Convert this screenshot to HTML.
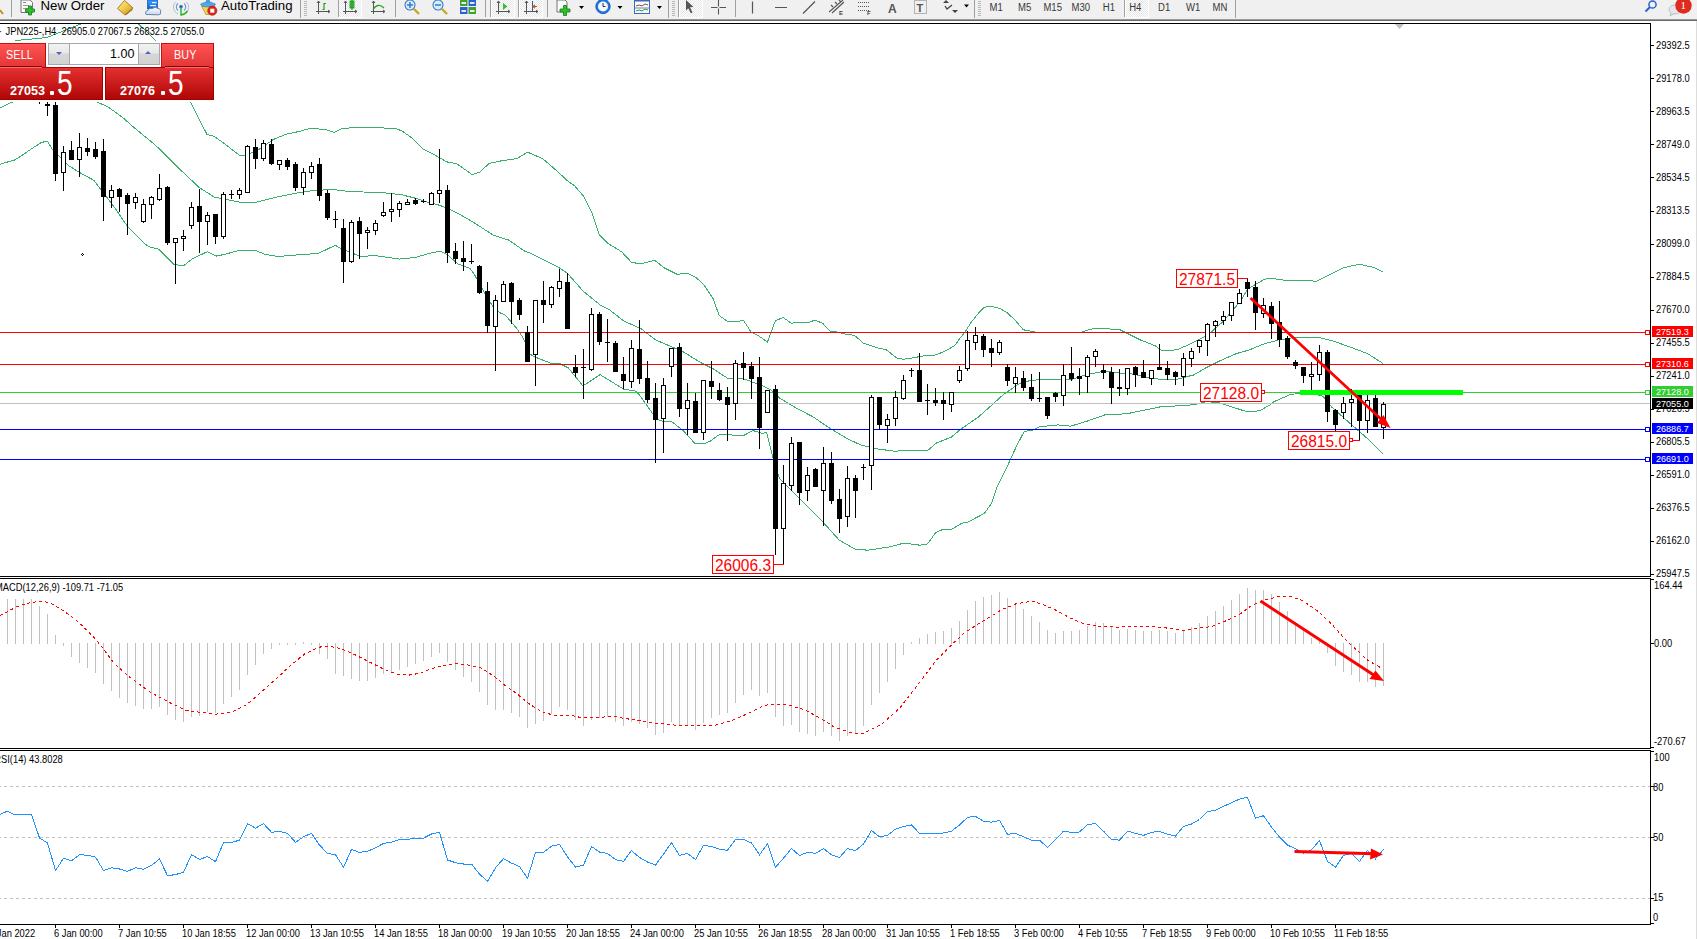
<!DOCTYPE html>
<html><head><meta charset="utf-8">
<style>
html,body{margin:0;padding:0;background:#fff;}
body{width:1697px;height:939px;overflow:hidden;position:relative;font-family:"Liberation Sans",sans-serif;}
#tb{position:absolute;left:0;top:0;width:1697px;height:19px;background:#f0f0f0;}
#tbl{position:absolute;left:0;top:19px;width:1697px;height:2px;background:linear-gradient(#9a9a9a 0,#9a9a9a 50%,#6a6a6a 50%,#6a6a6a 100%);}
#chart{position:absolute;left:0;top:0;}
#edge{position:absolute;left:1696px;top:21px;width:1px;height:918px;background:#dcdcdc;}
.tp{position:absolute;}
</style></head><body>
<div id="tb"><svg width="1697" height="19" style="position:absolute;left:0;top:0">
<g shape-rendering="crispEdges">
<defs><pattern id="chk" x="0" y="0" width="2" height="2" patternUnits="userSpaceOnUse"><rect width="2" height="2" fill="#ffffff"/><rect width="1" height="1" fill="#e6e6e6"/><rect x="1" y="1" width="1" height="1" fill="#e6e6e6"/></pattern></defs>
<rect x="338" y="0" width="24" height="18" fill="#fff"/><rect x="339" y="0" width="22" height="17" fill="url(#chk)"/>
<rect x="491" y="0" width="24" height="18" fill="#fff"/><rect x="492" y="0" width="22" height="17" fill="url(#chk)"/>
<rect x="519" y="0" width="24" height="18" fill="#fff"/><rect x="520" y="0" width="22" height="17" fill="url(#chk)"/>
<rect x="679" y="0" width="24" height="18" fill="#fff"/><rect x="680" y="0" width="22" height="17" fill="url(#chk)"/>
<rect x="1125" y="0" width="24" height="18" fill="#fff"/><rect x="1126" y="0" width="22" height="17" fill="url(#chk)"/>
<g fill="#a0a0a0">
<rect x="11" y="0" width="1" height="17"/>
<rect x="300" y="0" width="1" height="18"/>
<rect x="338" y="0" width="1" height="17"/>
<rect x="395" y="0" width="1" height="17"/>
<rect x="485" y="0" width="1" height="17"/>
<rect x="490" y="0" width="1" height="17"/>
<rect x="518" y="0" width="1" height="17"/>
<rect x="547" y="0" width="1" height="17"/>
<rect x="668" y="0" width="1" height="18"/>
<rect x="678" y="0" width="1" height="17"/>
<rect x="735" y="0" width="1" height="17"/>
<rect x="974" y="0" width="1" height="18"/>
<rect x="1124" y="0" width="1" height="17"/>
<rect x="1235" y="0" width="1" height="18"/>
</g>
<g fill="#b8b8b8">
<rect x="304" y="1" width="3" height="1"/><rect x="304" y="3" width="3" height="1"/><rect x="304" y="5" width="3" height="1"/><rect x="304" y="7" width="3" height="1"/><rect x="304" y="9" width="3" height="1"/><rect x="304" y="11" width="3" height="1"/><rect x="304" y="13" width="3" height="1"/><rect x="304" y="15" width="3" height="1"/>
<rect x="672" y="1" width="3" height="1"/><rect x="672" y="3" width="3" height="1"/><rect x="672" y="5" width="3" height="1"/><rect x="672" y="7" width="3" height="1"/><rect x="672" y="9" width="3" height="1"/><rect x="672" y="11" width="3" height="1"/><rect x="672" y="13" width="3" height="1"/><rect x="672" y="15" width="3" height="1"/>
<rect x="978" y="1" width="3" height="1"/><rect x="978" y="3" width="3" height="1"/><rect x="978" y="5" width="3" height="1"/><rect x="978" y="7" width="3" height="1"/><rect x="978" y="9" width="3" height="1"/><rect x="978" y="11" width="3" height="1"/><rect x="978" y="13" width="3" height="1"/><rect x="978" y="15" width="3" height="1"/>
</g>
</g>
<!-- partial icon at left -->
<path d="M0,10 L3,14" stroke="#c89020" stroke-width="2"/>
<!-- new order doc -->
<path d="M21,0 L30,0 L32.5,2.5 L32.5,12.5 L21,12.5 Z" fill="#fafafa" stroke="#777" stroke-width="1"/>
<rect x="23" y="2" width="3" height="1" fill="#888"/><rect x="23" y="5" width="6" height="1" fill="#999"/><rect x="23" y="8" width="5" height="1" fill="#999"/>
<path d="M28.5,6 h3 v3 h3 v3 h-3 v3 h-3 v-3 h-3 v-3 h3 z" fill="#2fc02f" stroke="#108010" stroke-width="0.8"/>
<!-- gold book -->
<defs><linearGradient id="gb" x1="0" y1="0" x2="1" y2="1"><stop offset="0" stop-color="#fff0a0"/><stop offset="0.5" stop-color="#f0c848"/><stop offset="1" stop-color="#c08820"/></linearGradient>
<linearGradient id="cl" x1="0" y1="0" x2="0" y2="1"><stop offset="0" stop-color="#ffffff"/><stop offset="1" stop-color="#c8d4e8"/></linearGradient>
<linearGradient id="bd" x1="0" y1="0" x2="0" y2="1"><stop offset="0" stop-color="#3aa0ff"/><stop offset="1" stop-color="#1060d0"/></linearGradient></defs>
<path d="M117.5,8.5 L124.5,0.5 L133,8 L125,15 Z" fill="url(#gb)" stroke="#a87018" stroke-width="0.9"/>
<path d="M125.5,14 L132.5,8.5 L132.5,10 L125.5,15.5 Z" fill="#a87018"/>
<!-- doc + cloud -->
<path d="M147.5,0 L157.5,0 L157.5,9 L147.5,9 Z" fill="url(#bd)" stroke="#1858b8" stroke-width="0.8"/>
<rect x="152" y="2" width="4.5" height="1.2" fill="#e8f4ff"/><rect x="150" y="5" width="6" height="1.2" fill="#e8f4ff"/>
<path d="M146,14.5 Q144.5,11 148,10.5 Q149,7.5 152.5,8.5 Q155,6 158,8.5 Q161.5,9 160.5,12 Q161.5,14.5 158.5,14.8 Z" fill="url(#cl)" stroke="#5a78a8" stroke-width="0.9"/>
<!-- signal -->
<path d="M175.5,2 A7.5,7.5 0 0,0 178,14 M186.5,2 A7.5,7.5 0 0,1 186,13" fill="none" stroke="#a8c0e0" stroke-width="1"/>
<path d="M178,3.5 A4.5,4.5 0 0,0 178,10.5 M184,3.5 A4.5,4.5 0 0,1 184,10.5" fill="none" stroke="#6a94d4" stroke-width="1.1"/>
<circle cx="181" cy="6.8" r="1.8" fill="#2a5ad0"/>
<path d="M181,7 L181,15 Q185,14.5 187.5,11" fill="none" stroke="#2cb02c" stroke-width="1.4"/>
<!-- autotrading -->
<path d="M201.5,6 L215,6 L209,14.5 L206,14.5 Z" fill="#f4d458" stroke="#b89018" stroke-width="0.8"/>
<path d="M200.5,4 Q208,0 215.5,4 Q215,7 208,7 Q201,7 200.5,4 Z" fill="#58a8e0" stroke="#3a80c0" stroke-width="0.6"/>
<path d="M205.5,3 Q206,-1 208,-1 Q210,-1 210.5,3 Z" fill="#4a98d8"/>
<circle cx="212.3" cy="10.7" r="4.6" fill="#e22418" stroke="#a81008" stroke-width="0.6"/>
<rect x="210.3" y="8.7" width="4" height="4" fill="#fff"/>
<!-- chart type icons -->
<g stroke="#555" stroke-width="1" fill="none">
<path d="M318.5,1 v13 M316,11.5 h14 M317,3 l1.5,-2 l1.5,2 M328,10 l2,1.5 l-2,1.5"/>
<path d="M345.5,1 v13 M343,11.5 h14 M344,3 l1.5,-2 l1.5,2 M355,10 l2,1.5 l-2,1.5"/>
<path d="M373.5,1 v13 M371,11.5 h14 M372,3 l1.5,-2 l1.5,2 M383,10 l2,1.5 l-2,1.5"/>
<path d="M498.5,1 v13 M496,11.5 h14 M497,3 l1.5,-2 l1.5,2 M508,10 l2,1.5 l-2,1.5"/>
<path d="M526.5,1 v13 M524,11.5 h14 M525,3 l1.5,-2 l1.5,2 M536,10 l2,1.5 l-2,1.5"/>
</g>
<path d="M322.5,9.5 h1.5 v-6 h2" fill="none" stroke="#20a020" stroke-width="1.2"/>
<rect x="350" y="1" width="4" height="7" fill="#40d040" stroke="#109010" stroke-width="0.8"/><path d="M352,0 v10" stroke="#109010"/>
<path d="M373,9.5 Q378,2 384,8" fill="none" stroke="#20a020" stroke-width="1.2"/>
<path d="M503,3 L507.5,6.5 L503,10 Z" fill="#30c030"/>
<path d="M532.5,1 v10" stroke="#2060b0" stroke-width="1"/><path d="M537,6.5 h-3 M535,5 l-2,1.5 l2,1.5" stroke="#e05010" stroke-width="1.2" fill="none"/>
<!-- zoom in/out -->
<circle cx="410" cy="5" r="5" fill="#d8ecfa" stroke="#3a7ac8" stroke-width="1.1"/>
<path d="M407,5 h6 M410,2 v6" stroke="#3a7ac8" stroke-width="1.5"/>
<path d="M414,9 L419,14" stroke="#c8a818" stroke-width="2.4"/>
<circle cx="438" cy="5" r="5" fill="#d8ecfa" stroke="#3a7ac8" stroke-width="1.1"/>
<path d="M435,5 h6" stroke="#3a7ac8" stroke-width="1.5"/>
<path d="M442,9 L447,14" stroke="#c8a818" stroke-width="2.4"/>
<!-- tile -->
<rect x="460" y="0" width="7.5" height="6" fill="#40a030"/><rect x="468.5" y="0" width="7.5" height="6" fill="#2a60d0"/>
<rect x="460" y="7" width="7.5" height="7" fill="#2a60d0"/><rect x="468.5" y="7" width="7.5" height="7" fill="#40a030"/>
<rect x="461.5" y="2" width="4.5" height="2" fill="#e8f0e0"/><rect x="470" y="2" width="4.5" height="2" fill="#e0e8f8"/>
<rect x="461.5" y="10" width="4.5" height="2" fill="#e0e8f8"/><rect x="470" y="10" width="4.5" height="2" fill="#e8f0e0"/>
<!-- new chart -->
<path d="M557,0 L565,0 L567,2 L567,12 L557,12 Z" fill="#fafafa" stroke="#777" stroke-width="1"/>
<path d="M563.5,5.5 h3 v3.5 h3.5 v3 h-3.5 v3.5 h-3 v-3.5 h-3.5 v-3 h3.5 z" fill="#2fc02f" stroke="#108010" stroke-width="0.8"/>
<path d="M579,6 h5 l-2.5,3 z M617.5,6 h5 l-2.5,3 z M657,6 h5 l-2.5,3 z M964,4.5 h5 l-2.5,3 z" fill="#000"/>
<!-- clock -->
<circle cx="603" cy="6.5" r="7.2" fill="#1e78e0" stroke="#0a50b0" stroke-width="0.8"/>
<circle cx="603" cy="6.5" r="5" fill="#f4f8fc"/>
<path d="M603,3 v3.5 h2.5" stroke="#333" stroke-width="1" fill="none"/>
<!-- indicators window -->
<rect x="634.5" y="0" width="15" height="13.5" fill="#f8fbff" stroke="#3a6ab8" stroke-width="1"/>
<rect x="635" y="0" width="14" height="1.5" fill="#3a6ab8"/>
<path d="M636,6 l3,-1 l3,1 l3,-2 l3,1" stroke="#b04020" stroke-width="1" fill="none"/>
<path d="M635,8 h14" stroke="#3a6ab8" stroke-width="0.8"/>
<path d="M636,11 l3,-1 l3,1 l3,-2 l3,1" stroke="#30a030" stroke-width="1" fill="none"/>
<!-- cursor -->
<path d="M686,0 L693.5,7 L690,7.2 L692.5,12.5 L690.8,13.3 L688.3,8.2 L686,10.5 Z" fill="#555"/>
<!-- crosshair -->
<path d="M711,7.5 h15 M718.5,0 v14.5" stroke="#555" stroke-width="1.1"/>
<rect x="717.5" y="6.5" width="2" height="2" fill="#f0f0f0"/>
<!-- lines -->
<path d="M752.5,1.5 v12 M775,7.5 h12 M803,13.5 L815,1.5" stroke="#555" stroke-width="1.2"/>
<path d="M829,12 L843,0 M832,13 L844,2 M831,5 l2,2 M835,2 l2,2 M839,0 l2,2" stroke="#555" stroke-width="1.1" fill="none"/>
<text x="839" y="15" font-family="Liberation Sans" font-size="6" font-weight="bold" fill="#444">E</text>
<path d="M858,2.5 h12 M858,6.5 h12 M858,10.5 h12" stroke="#555" stroke-width="1" stroke-dasharray="1,1"/>
<text x="867" y="15" font-family="Liberation Sans" font-size="6" font-weight="bold" fill="#444">F</text>
<text x="888" y="12.5" font-family="Liberation Sans" font-size="12" font-weight="bold" fill="#555">A</text>
<rect x="914.5" y="0.5" width="12" height="13" fill="none" stroke="#777" stroke-width="1" stroke-dasharray="1,1"/>
<text x="916.5" y="11.5" font-family="Liberation Sans" font-size="11" font-weight="bold" fill="#555">T</text>
<path d="M943,3 l3,-3 l3,3 z M952,10 l3,3 l3,-3 z" fill="#444"/>
<path d="M945,6 l2,3 l5,-4" stroke="#444" stroke-width="1.3" fill="none"/>
<!-- periods text -->
<g font-family="Liberation Sans, sans-serif" font-size="10.6" fill="#383838" transform="scale(0.9,1)">
<text x="1099.44" y="11">M1</text><text x="1131.11" y="11">M5</text><text x="1159.33" y="11">M15</text><text x="1190.56" y="11">M30</text>
<text x="1225.33" y="11">H1</text><text x="1254.67" y="11">H4</text><text x="1286.67" y="11">D1</text><text x="1317.78" y="11">W1</text><text x="1347.33" y="11">MN</text>
</g>
<g font-family="Liberation Sans, sans-serif" font-size="12.3" fill="#000">
<text x="40.5" y="10" textLength="64" lengthAdjust="spacingAndGlyphs">New Order</text>
<text x="221" y="10" textLength="71.5" lengthAdjust="spacingAndGlyphs">AutoTrading</text>
</g>
<!-- search & chat -->
<circle cx="1652.5" cy="4.5" r="3.6" fill="none" stroke="#2a62d0" stroke-width="1.5"/>
<path d="M1650,7 L1645.5,11.5" stroke="#2a62d0" stroke-width="2"/>
<ellipse cx="1675" cy="9.5" rx="6" ry="4.5" fill="#e4e6ea" stroke="#b0b4bc" stroke-width="0.8"/>
<path d="M1671,13 l-1,3 l4,-2.5" fill="#e4e6ea" stroke="#b0b4bc" stroke-width="0.8"/>
<circle cx="1683.5" cy="5.5" r="8.2" fill="#e02a1e"/>
<text x="1680.5" y="9" font-family="Liberation Serif, serif" font-size="11" fill="#fff">1</text>
</svg>
</div>
<div id="tbl"></div>
<svg id="chart" width="1697" height="939">
<defs><clipPath id="cm"><rect x="0" y="24" width="1650" height="552"/></clipPath><clipPath id="cmacd"><rect x="0" y="579" width="1650" height="169"/></clipPath><clipPath id="crsi"><rect x="0" y="751" width="1650" height="173"/></clipPath></defs>
<g shape-rendering="crispEdges" fill="#000">
<rect x="0" y="23" width="1651" height="1"/>
<rect x="1650" y="23" width="1" height="554"/>
<rect x="0" y="576" width="1651" height="1"/>
<rect x="0" y="578" width="1651" height="1"/>
<rect x="1650" y="578" width="1" height="171"/>
<rect x="0" y="748" width="1651" height="1"/>
<rect x="0" y="750" width="1651" height="1"/>
<rect x="1650" y="750" width="1" height="175"/>
<rect x="0" y="924" width="1651" height="1"/>
</g>
<g clip-path="url(#cm)">
<polyline points="0.0,47.0 17.0,40.4 46.7,37.6 82.0,23.5 110.0,10.0 138.0,23.5 155.6,40.4 190.5,102.1 207.0,134.5 213.9,136.2 224.5,143.7 239.5,155.4 244.8,155.0 256.5,151.1 273.5,139.4 286.3,134.1 299.0,131.5 310.8,128.1 326.8,129.8 334.2,132.4 341.7,128.8 356.0,127.3 379.4,127.7 396.4,128.8 401.8,130.9 412.4,138.3 423.0,149.0 433.7,154.3 446.5,161.8 457.1,163.9 472.0,174.5 479.5,172.4 489.0,163.5 501.9,160.7 516.8,158.6 527.4,152.2 530.0,153.2 542.8,158.7 555.6,169.8 568.3,181.5 574.7,185.8 583.2,195.8 591.8,212.4 599.2,234.8 607.7,243.3 621.6,251.8 631.2,262.0 639.7,264.0 654.6,260.3 664.2,267.8 677.0,274.2 687.6,273.5 696.1,277.4 704.7,285.9 713.2,298.7 719.2,315.6 727.5,321.3 738.3,321.3 743.5,320.3 751.1,332.2 758.8,336.0 767.5,342.0 770.9,332.8 775.4,320.7 783.1,317.5 791.4,323.3 795.8,322.4 808.6,322.4 815.0,320.1 822.7,323.3 830.4,331.6 835.5,331.6 845.7,334.1 854.6,335.4 863.6,343.3 878.9,348.2 885.9,349.5 897.0,358.2 903.4,359.2 914.0,357.7 922.6,356.0 933.2,355.6 943.9,351.8 954.5,345.8 960.0,338.3 965.4,331.6 970.9,322.7 978.1,313.6 984.4,307.2 991.7,306.3 1000.0,308.5 1007.0,312.6 1015.0,320.0 1023.4,329.8 1036.0,332.2 1081.0,332.2 1094.0,328.3 1119.3,329.4 1127.5,333.5 1140.3,339.9 1155.2,345.8 1161.6,350.5 1176.5,349.9 1190.0,344.2 1203.8,337.3 1211.3,332.0 1222.0,322.4 1232.6,310.7 1241.1,300.0 1247.5,289.4 1256.0,284.1 1264.5,279.3 1270.9,278.2 1277.3,279.3 1290.0,280.9 1301.8,280.2 1316.7,281.3 1329.5,274.9 1344.4,267.5 1359.3,264.3 1374.2,267.5 1382.7,271.7" fill="none" stroke="#36b06c" stroke-width="1" shape-rendering="crispEdges"/>
<polyline points="0.0,107.9 12.0,102.2 30.0,95.0 80.0,95.0 97.3,102.2 107.5,106.5 123.0,117.8 135.8,129.1 150.0,140.6 160.6,150.0 179.8,169.2 199.0,187.3 213.9,196.9 239.5,202.2 256.5,202.2 277.8,196.9 299.0,192.6 314.0,190.5 333.2,189.5 350.0,191.6 363.4,192.0 382.6,192.6 401.8,194.8 414.5,198.0 429.5,202.7 440.1,205.4 455.0,211.8 472.0,221.4 493.4,235.2 508.5,240.0 525.6,251.7 530.0,252.9 557.7,266.7 567.3,273.1 583.2,291.2 600.3,305.1 608.8,309.3 623.7,321.0 640.8,328.5 655.7,340.0 666.1,344.4 683.2,351.8 700.0,362.2 712.8,368.6 727.5,378.2 742.2,378.2 753.9,382.6 762.4,385.8 770.9,390.0 779.5,398.0 796.5,408.2 813.5,417.1 828.4,427.3 839.1,433.7 846.5,438.3 860.4,444.8 875.3,448.6 893.4,451.1 920.0,450.6 927.5,450.6 936.4,443.1 951.3,437.1 960.0,429.8 978.0,417.3 992.5,404.5 1003.4,394.5 1017.9,384.5 1028.8,380.9 1039.7,379.5 1061.4,379.5 1072.3,379.1 1086.7,374.6 1101.2,371.8 1110.3,371.8 1122.9,373.3 1130.0,373.6 1146.7,377.1 1159.5,379.3 1176.5,379.3 1193.5,375.0 1206.3,367.6 1219.1,361.2 1236.1,353.7 1249.0,350.0 1264.5,343.7 1278.4,340.0 1293.2,337.7 1316.7,337.1 1331.6,340.5 1350.8,347.3 1367.8,353.7 1382.7,363.3" fill="none" stroke="#36b06c" stroke-width="1" shape-rendering="crispEdges"/>
<polyline points="0.0,164.2 14.5,160.0 19.0,157.4 28.3,151.0 41.0,142.6 47.4,141.1 53.0,150.3 68.2,165.3 81.0,173.4 93.7,180.2 100.1,188.7 115.0,208.0 127.8,227.0 144.9,244.0 150.0,247.0 158.5,249.1 173.4,264.0 183.0,266.1 192.6,258.7 207.5,251.6 216.0,256.1 224.5,254.4 239.5,250.2 256.5,250.8 265.0,254.4 277.8,256.5 299.0,254.8 318.3,253.4 335.3,245.3 341.7,249.1 350.0,252.3 361.3,256.5 374.0,255.5 399.6,259.1 414.5,257.6 429.5,253.4 440.1,251.2 447.5,254.9 457.9,263.9 469.8,268.3 474.3,274.3 483.2,290.7 492.2,305.6 499.6,312.6 505.6,315.3 517.5,329.4 523.5,338.4 529.4,354.0 536.9,357.8 550.3,363.0 560.0,363.7 568.2,367.8 583.0,385.9 600.1,374.6 623.5,389.1 636.3,391.2 640.6,396.6 653.4,414.7 657.7,419.5 664.1,421.7 671.5,421.4 683.2,430.7 695.0,443.5 704.5,443.5 710.9,440.8 719.5,434.4 723.7,434.4 743.2,435.8 752.8,430.5 762.4,433.3 766.7,432.6 773.1,458.2 779.5,478.4 788.0,487.0 805.0,504.0 822.0,521.0 839.1,540.0 855.0,549.1 867.8,550.2 889.1,547.0 904.0,543.1 920.0,545.2 927.5,544.0 935.7,532.6 942.4,529.6 951.3,529.6 961.7,523.2 967.7,522.1 984.1,513.6 991.6,503.5 997.5,485.6 1002.0,477.4 1009.4,461.7 1016.9,445.3 1024.3,431.3 1032.4,430.4 1039.7,426.7 1057.8,424.9 1070.5,426.2 1086.7,421.3 1104.8,414.9 1117.5,414.6 1130.0,413.1 1159.5,407.0 1193.5,404.8 1206.3,401.6 1219.1,402.7 1246.8,411.7 1259.6,410.8 1270.0,404.8 1274.1,401.6 1291.1,394.2 1310.3,393.1 1323.1,396.3 1331.6,407.0 1350.8,424.0 1367.8,438.9 1382.7,453.8" fill="none" stroke="#36b06c" stroke-width="1" shape-rendering="crispEdges"/>
<g shape-rendering="crispEdges">
<rect x="0" y="332" width="1650" height="1" fill="#ff0000"/>
<rect x="0" y="364" width="1650" height="1" fill="#ff0000"/>
<rect x="0" y="392" width="1650" height="1" fill="#32cd32"/>
<rect x="0" y="403" width="1650" height="1" fill="#c0c0c0"/>
<rect x="0" y="429" width="1650" height="1" fill="#0000ff"/>
<rect x="0" y="459" width="1650" height="1" fill="#0000ff"/>
<rect x="1645.5" y="330.5" width="4" height="4" fill="#fff" stroke="#ff0000" stroke-width="1"/>
<rect x="1645.5" y="362.5" width="4" height="4" fill="#fff" stroke="#ff0000" stroke-width="1"/>
<rect x="1645.5" y="390.5" width="4" height="4" fill="#fff" stroke="#32cd32" stroke-width="1"/>
<rect x="1645.5" y="427.5" width="4" height="4" fill="#fff" stroke="#0000ff" stroke-width="1"/>
<rect x="1645.5" y="457.5" width="4" height="4" fill="#fff" stroke="#0000ff" stroke-width="1"/>
</g>
<polygon points="1395,24 1404,24 1399.5,29" fill="#c0c0c0"/>
<g shape-rendering="crispEdges">
<rect x="39" y="102" width="1" height="2" fill="#000"/>
<rect x="47" y="102" width="1" height="14" fill="#000"/>
<rect x="45" y="104" width="5" height="2" fill="#000"/>
<rect x="55" y="102" width="1" height="79" fill="#000"/>
<rect x="53" y="105" width="5" height="69" fill="#000"/>
<rect x="63" y="146" width="1" height="45" fill="#000"/>
<rect x="61.5" y="152.5" width="4" height="20" fill="#fff" stroke="#000" stroke-width="1"/>
<rect x="71" y="141" width="1" height="19" fill="#000"/>
<rect x="69" y="150" width="5" height="10" fill="#000"/>
<rect x="79" y="133" width="1" height="44" fill="#000"/>
<rect x="77.5" y="147.5" width="4" height="12" fill="#fff" stroke="#000" stroke-width="1"/>
<rect x="87" y="138" width="1" height="18" fill="#000"/>
<rect x="85" y="148" width="5" height="4" fill="#000"/>
<rect x="95" y="142" width="1" height="17" fill="#000"/>
<rect x="93" y="149" width="5" height="8" fill="#000"/>
<rect x="103" y="139" width="1" height="82" fill="#000"/>
<rect x="101" y="151" width="5" height="46" fill="#000"/>
<rect x="111" y="185" width="1" height="23" fill="#000"/>
<rect x="109.5" y="190.5" width="4" height="7" fill="#fff" stroke="#000" stroke-width="1"/>
<rect x="119" y="188" width="1" height="24" fill="#000"/>
<rect x="117" y="189" width="5" height="8" fill="#000"/>
<rect x="127" y="193" width="1" height="42" fill="#000"/>
<rect x="125" y="195" width="5" height="9" fill="#000"/>
<rect x="135" y="193" width="1" height="16" fill="#000"/>
<rect x="133.5" y="197.5" width="4" height="5" fill="#fff" stroke="#000" stroke-width="1"/>
<rect x="143" y="199" width="1" height="24" fill="#000"/>
<rect x="141.5" y="204.5" width="4" height="17" fill="#fff" stroke="#000" stroke-width="1"/>
<rect x="151" y="196" width="1" height="23" fill="#000"/>
<rect x="149.5" y="197.5" width="4" height="7" fill="#fff" stroke="#000" stroke-width="1"/>
<rect x="159" y="174" width="1" height="27" fill="#000"/>
<rect x="157.5" y="188.5" width="4" height="11" fill="#fff" stroke="#000" stroke-width="1"/>
<rect x="167" y="186" width="1" height="59" fill="#000"/>
<rect x="165" y="187" width="5" height="56" fill="#000"/>
<rect x="175" y="238" width="1" height="46" fill="#000"/>
<rect x="173.5" y="238.5" width="4" height="4" fill="#fff" stroke="#000" stroke-width="1"/>
<rect x="183" y="230" width="1" height="21" fill="#000"/>
<rect x="181.5" y="236.5" width="4" height="2" fill="#fff" stroke="#000" stroke-width="1"/>
<rect x="191" y="202" width="1" height="27" fill="#000"/>
<rect x="189.5" y="207.5" width="4" height="18" fill="#fff" stroke="#000" stroke-width="1"/>
<rect x="199" y="189" width="1" height="64" fill="#000"/>
<rect x="197" y="206" width="5" height="16" fill="#000"/>
<rect x="207" y="212" width="1" height="33" fill="#000"/>
<rect x="205.5" y="215.5" width="4" height="6" fill="#fff" stroke="#000" stroke-width="1"/>
<rect x="215" y="214" width="1" height="30" fill="#000"/>
<rect x="213" y="214" width="5" height="23" fill="#000"/>
<rect x="223" y="192" width="1" height="47" fill="#000"/>
<rect x="221.5" y="194.5" width="4" height="42" fill="#fff" stroke="#000" stroke-width="1"/>
<rect x="231" y="190" width="1" height="9" fill="#000"/>
<rect x="229" y="194" width="5" height="1" fill="#000"/>
<rect x="239" y="188" width="1" height="11" fill="#000"/>
<rect x="237.5" y="190.5" width="4" height="4" fill="#fff" stroke="#000" stroke-width="1"/>
<rect x="247" y="145" width="1" height="48" fill="#000"/>
<rect x="245.5" y="146.5" width="4" height="46" fill="#fff" stroke="#000" stroke-width="1"/>
<rect x="255" y="139" width="1" height="30" fill="#000"/>
<rect x="253" y="147" width="5" height="12" fill="#000"/>
<rect x="263" y="140" width="1" height="21" fill="#000"/>
<rect x="261.5" y="143.5" width="4" height="15" fill="#fff" stroke="#000" stroke-width="1"/>
<rect x="271" y="139" width="1" height="26" fill="#000"/>
<rect x="269" y="144" width="5" height="20" fill="#000"/>
<rect x="279" y="160" width="1" height="10" fill="#000"/>
<rect x="277.5" y="160.5" width="4" height="4" fill="#fff" stroke="#000" stroke-width="1"/>
<rect x="287" y="158" width="1" height="12" fill="#000"/>
<rect x="285" y="160" width="5" height="7" fill="#000"/>
<rect x="295" y="162" width="1" height="29" fill="#000"/>
<rect x="293" y="164" width="5" height="24" fill="#000"/>
<rect x="303" y="168" width="1" height="27" fill="#000"/>
<rect x="301.5" y="172.5" width="4" height="15" fill="#fff" stroke="#000" stroke-width="1"/>
<rect x="311" y="162" width="1" height="17" fill="#000"/>
<rect x="309.5" y="166.5" width="4" height="6" fill="#fff" stroke="#000" stroke-width="1"/>
<rect x="319" y="158" width="1" height="43" fill="#000"/>
<rect x="317" y="164" width="5" height="32" fill="#000"/>
<rect x="327" y="190" width="1" height="30" fill="#000"/>
<rect x="325" y="193" width="5" height="25" fill="#000"/>
<rect x="335" y="211" width="1" height="17" fill="#000"/>
<rect x="333" y="219" width="5" height="1" fill="#000"/>
<rect x="343" y="219" width="1" height="64" fill="#000"/>
<rect x="341" y="228" width="5" height="34" fill="#000"/>
<rect x="351" y="220" width="1" height="43" fill="#000"/>
<rect x="349.5" y="222.5" width="4" height="39" fill="#fff" stroke="#000" stroke-width="1"/>
<rect x="359" y="217" width="1" height="42" fill="#000"/>
<rect x="357" y="221" width="5" height="13" fill="#000"/>
<rect x="367" y="227" width="1" height="22" fill="#000"/>
<rect x="365.5" y="230.5" width="4" height="2" fill="#fff" stroke="#000" stroke-width="1"/>
<rect x="375" y="220" width="1" height="15" fill="#000"/>
<rect x="373.5" y="223.5" width="4" height="7" fill="#fff" stroke="#000" stroke-width="1"/>
<rect x="383" y="202" width="1" height="15" fill="#000"/>
<rect x="381.5" y="212.5" width="4" height="3" fill="#fff" stroke="#000" stroke-width="1"/>
<rect x="391" y="193" width="1" height="29" fill="#000"/>
<rect x="389.5" y="209.5" width="4" height="2" fill="#fff" stroke="#000" stroke-width="1"/>
<rect x="399" y="201" width="1" height="16" fill="#000"/>
<rect x="397.5" y="203.5" width="4" height="6" fill="#fff" stroke="#000" stroke-width="1"/>
<rect x="407" y="199" width="1" height="6" fill="#000"/>
<rect x="405.5" y="202.5" width="4" height="2" fill="#fff" stroke="#000" stroke-width="1"/>
<rect x="415" y="198" width="1" height="7" fill="#000"/>
<rect x="413" y="200" width="5" height="4" fill="#000"/>
<rect x="423" y="199" width="1" height="4" fill="#000"/>
<rect x="421" y="201" width="5" height="1" fill="#000"/>
<rect x="431" y="192" width="1" height="13" fill="#000"/>
<rect x="429.5" y="193.5" width="4" height="11" fill="#fff" stroke="#000" stroke-width="1"/>
<rect x="439" y="149" width="1" height="54" fill="#000"/>
<rect x="437.5" y="190.5" width="4" height="3" fill="#fff" stroke="#000" stroke-width="1"/>
<rect x="447" y="185" width="1" height="78" fill="#000"/>
<rect x="445" y="190" width="5" height="63" fill="#000"/>
<rect x="455" y="243" width="1" height="21" fill="#000"/>
<rect x="453" y="251" width="5" height="8" fill="#000"/>
<rect x="463" y="241" width="1" height="30" fill="#000"/>
<rect x="461" y="258" width="5" height="4" fill="#000"/>
<rect x="471" y="244" width="1" height="20" fill="#000"/>
<rect x="469" y="261" width="5" height="1" fill="#000"/>
<rect x="479" y="265" width="1" height="29" fill="#000"/>
<rect x="477" y="266" width="5" height="27" fill="#000"/>
<rect x="487" y="282" width="1" height="51" fill="#000"/>
<rect x="485" y="291" width="5" height="35" fill="#000"/>
<rect x="495" y="295" width="1" height="76" fill="#000"/>
<rect x="493.5" y="300.5" width="4" height="26" fill="#fff" stroke="#000" stroke-width="1"/>
<rect x="503" y="281" width="1" height="21" fill="#000"/>
<rect x="501.5" y="284.5" width="4" height="17" fill="#fff" stroke="#000" stroke-width="1"/>
<rect x="511" y="282" width="1" height="42" fill="#000"/>
<rect x="509" y="283" width="5" height="19" fill="#000"/>
<rect x="519" y="298" width="1" height="22" fill="#000"/>
<rect x="517" y="300" width="5" height="15" fill="#000"/>
<rect x="527" y="326" width="1" height="36" fill="#000"/>
<rect x="525" y="332" width="5" height="30" fill="#000"/>
<rect x="535" y="300" width="1" height="86" fill="#000"/>
<rect x="533.5" y="300.5" width="4" height="54" fill="#fff" stroke="#000" stroke-width="1"/>
<rect x="543" y="281" width="1" height="42" fill="#000"/>
<rect x="541" y="300" width="5" height="5" fill="#000"/>
<rect x="551" y="286" width="1" height="22" fill="#000"/>
<rect x="549.5" y="287.5" width="4" height="17" fill="#fff" stroke="#000" stroke-width="1"/>
<rect x="559" y="269" width="1" height="28" fill="#000"/>
<rect x="557.5" y="281.5" width="4" height="7" fill="#fff" stroke="#000" stroke-width="1"/>
<rect x="567" y="273" width="1" height="56" fill="#000"/>
<rect x="565" y="282" width="5" height="47" fill="#000"/>
<rect x="575" y="355" width="1" height="22" fill="#000"/>
<rect x="573" y="367" width="5" height="6" fill="#000"/>
<rect x="583" y="349" width="1" height="50" fill="#000"/>
<rect x="581" y="367" width="5" height="1" fill="#000"/>
<rect x="591" y="308" width="1" height="63" fill="#000"/>
<rect x="589.5" y="314.5" width="4" height="55" fill="#fff" stroke="#000" stroke-width="1"/>
<rect x="599" y="312" width="1" height="33" fill="#000"/>
<rect x="597" y="314" width="5" height="28" fill="#000"/>
<rect x="607" y="319" width="1" height="43" fill="#000"/>
<rect x="605" y="342" width="5" height="1" fill="#000"/>
<rect x="615" y="341" width="1" height="31" fill="#000"/>
<rect x="613" y="343" width="5" height="29" fill="#000"/>
<rect x="623" y="357" width="1" height="32" fill="#000"/>
<rect x="621" y="374" width="5" height="7" fill="#000"/>
<rect x="631" y="340" width="1" height="48" fill="#000"/>
<rect x="629.5" y="348.5" width="4" height="33" fill="#fff" stroke="#000" stroke-width="1"/>
<rect x="639" y="320" width="1" height="64" fill="#000"/>
<rect x="637" y="349" width="5" height="30" fill="#000"/>
<rect x="647" y="361" width="1" height="42" fill="#000"/>
<rect x="645" y="378" width="5" height="22" fill="#000"/>
<rect x="655" y="383" width="1" height="80" fill="#000"/>
<rect x="653" y="398" width="5" height="22" fill="#000"/>
<rect x="663" y="378" width="1" height="75" fill="#000"/>
<rect x="661.5" y="385.5" width="4" height="33" fill="#fff" stroke="#000" stroke-width="1"/>
<rect x="671" y="348" width="1" height="29" fill="#000"/>
<rect x="669.5" y="348.5" width="4" height="18" fill="#fff" stroke="#000" stroke-width="1"/>
<rect x="679" y="343" width="1" height="74" fill="#000"/>
<rect x="677" y="347" width="5" height="62" fill="#000"/>
<rect x="687" y="383" width="1" height="52" fill="#000"/>
<rect x="685.5" y="400.5" width="4" height="8" fill="#fff" stroke="#000" stroke-width="1"/>
<rect x="695" y="393" width="1" height="40" fill="#000"/>
<rect x="693" y="401" width="5" height="32" fill="#000"/>
<rect x="703" y="380" width="1" height="60" fill="#000"/>
<rect x="701.5" y="380.5" width="4" height="52" fill="#fff" stroke="#000" stroke-width="1"/>
<rect x="711" y="361" width="1" height="38" fill="#000"/>
<rect x="709" y="381" width="5" height="6" fill="#000"/>
<rect x="719" y="383" width="1" height="18" fill="#000"/>
<rect x="717" y="390" width="5" height="10" fill="#000"/>
<rect x="727" y="387" width="1" height="54" fill="#000"/>
<rect x="725" y="397" width="5" height="8" fill="#000"/>
<rect x="735" y="360" width="1" height="60" fill="#000"/>
<rect x="733.5" y="363.5" width="4" height="40" fill="#fff" stroke="#000" stroke-width="1"/>
<rect x="743" y="352" width="1" height="28" fill="#000"/>
<rect x="741" y="363" width="5" height="5" fill="#000"/>
<rect x="751" y="362" width="1" height="37" fill="#000"/>
<rect x="749" y="366" width="5" height="13" fill="#000"/>
<rect x="759" y="357" width="1" height="92" fill="#000"/>
<rect x="757" y="377" width="5" height="51" fill="#000"/>
<rect x="767" y="390" width="1" height="23" fill="#000"/>
<rect x="765.5" y="390.5" width="4" height="22" fill="#fff" stroke="#000" stroke-width="1"/>
<rect x="775" y="385" width="1" height="170" fill="#000"/>
<rect x="773" y="389" width="5" height="140" fill="#000"/>
<rect x="783" y="465" width="1" height="100" fill="#000"/>
<rect x="781.5" y="483.5" width="4" height="45" fill="#fff" stroke="#000" stroke-width="1"/>
<rect x="791" y="437" width="1" height="54" fill="#000"/>
<rect x="789.5" y="443.5" width="4" height="42" fill="#fff" stroke="#000" stroke-width="1"/>
<rect x="799" y="442" width="1" height="63" fill="#000"/>
<rect x="797" y="442" width="5" height="51" fill="#000"/>
<rect x="807" y="467" width="1" height="34" fill="#000"/>
<rect x="805.5" y="475.5" width="4" height="15" fill="#fff" stroke="#000" stroke-width="1"/>
<rect x="815" y="468" width="1" height="19" fill="#000"/>
<rect x="813" y="469" width="5" height="18" fill="#000"/>
<rect x="823" y="447" width="1" height="79" fill="#000"/>
<rect x="821.5" y="463.5" width="4" height="27" fill="#fff" stroke="#000" stroke-width="1"/>
<rect x="831" y="452" width="1" height="52" fill="#000"/>
<rect x="829" y="463" width="5" height="38" fill="#000"/>
<rect x="839" y="489" width="1" height="44" fill="#000"/>
<rect x="837" y="499" width="5" height="20" fill="#000"/>
<rect x="847" y="466" width="1" height="61" fill="#000"/>
<rect x="845.5" y="478.5" width="4" height="38" fill="#fff" stroke="#000" stroke-width="1"/>
<rect x="855" y="475" width="1" height="43" fill="#000"/>
<rect x="853" y="478" width="5" height="13" fill="#000"/>
<rect x="863" y="464" width="1" height="16" fill="#000"/>
<rect x="861" y="467" width="5" height="1" fill="#000"/>
<rect x="871" y="395" width="1" height="95" fill="#000"/>
<rect x="869.5" y="397.5" width="4" height="68" fill="#fff" stroke="#000" stroke-width="1"/>
<rect x="879" y="397" width="1" height="33" fill="#000"/>
<rect x="877" y="397" width="5" height="28" fill="#000"/>
<rect x="887" y="414" width="1" height="29" fill="#000"/>
<rect x="885.5" y="419.5" width="4" height="6" fill="#fff" stroke="#000" stroke-width="1"/>
<rect x="895" y="391" width="1" height="35" fill="#000"/>
<rect x="893.5" y="397.5" width="4" height="21" fill="#fff" stroke="#000" stroke-width="1"/>
<rect x="903" y="375" width="1" height="25" fill="#000"/>
<rect x="901.5" y="380.5" width="4" height="18" fill="#fff" stroke="#000" stroke-width="1"/>
<rect x="911" y="368" width="1" height="9" fill="#000"/>
<rect x="909" y="370" width="5" height="1" fill="#000"/>
<rect x="919" y="353" width="1" height="49" fill="#000"/>
<rect x="917" y="370" width="5" height="32" fill="#000"/>
<rect x="927" y="384" width="1" height="31" fill="#000"/>
<rect x="925" y="400" width="5" height="1" fill="#000"/>
<rect x="935" y="388" width="1" height="18" fill="#000"/>
<rect x="933" y="400" width="5" height="3" fill="#000"/>
<rect x="943" y="392" width="1" height="28" fill="#000"/>
<rect x="941" y="400" width="5" height="4" fill="#000"/>
<rect x="951" y="392" width="1" height="20" fill="#000"/>
<rect x="949.5" y="392.5" width="4" height="12" fill="#fff" stroke="#000" stroke-width="1"/>
<rect x="959" y="366" width="1" height="17" fill="#000"/>
<rect x="957.5" y="370.5" width="4" height="10" fill="#fff" stroke="#000" stroke-width="1"/>
<rect x="967" y="331" width="1" height="40" fill="#000"/>
<rect x="965.5" y="340.5" width="4" height="28" fill="#fff" stroke="#000" stroke-width="1"/>
<rect x="975" y="327" width="1" height="23" fill="#000"/>
<rect x="973.5" y="335.5" width="4" height="7" fill="#fff" stroke="#000" stroke-width="1"/>
<rect x="983" y="334" width="1" height="23" fill="#000"/>
<rect x="981" y="336" width="5" height="14" fill="#000"/>
<rect x="991" y="339" width="1" height="28" fill="#000"/>
<rect x="989" y="348" width="5" height="5" fill="#000"/>
<rect x="999" y="340" width="1" height="15" fill="#000"/>
<rect x="997.5" y="342.5" width="4" height="10" fill="#fff" stroke="#000" stroke-width="1"/>
<rect x="1007" y="364" width="1" height="22" fill="#000"/>
<rect x="1005" y="367" width="5" height="14" fill="#000"/>
<rect x="1015" y="367" width="1" height="26" fill="#000"/>
<rect x="1013.5" y="377.5" width="4" height="6" fill="#fff" stroke="#000" stroke-width="1"/>
<rect x="1023" y="371" width="1" height="20" fill="#000"/>
<rect x="1021" y="378" width="5" height="10" fill="#000"/>
<rect x="1031" y="374" width="1" height="27" fill="#000"/>
<rect x="1029" y="387" width="5" height="12" fill="#000"/>
<rect x="1039" y="372" width="1" height="30" fill="#000"/>
<rect x="1037" y="398" width="5" height="1" fill="#000"/>
<rect x="1047" y="397" width="1" height="22" fill="#000"/>
<rect x="1045" y="397" width="5" height="19" fill="#000"/>
<rect x="1055" y="392" width="1" height="10" fill="#000"/>
<rect x="1053" y="393" width="5" height="4" fill="#000"/>
<rect x="1063" y="364" width="1" height="42" fill="#000"/>
<rect x="1061.5" y="375.5" width="4" height="20" fill="#fff" stroke="#000" stroke-width="1"/>
<rect x="1071" y="347" width="1" height="34" fill="#000"/>
<rect x="1069" y="373" width="5" height="6" fill="#000"/>
<rect x="1079" y="368" width="1" height="27" fill="#000"/>
<rect x="1077" y="376" width="5" height="3" fill="#000"/>
<rect x="1087" y="355" width="1" height="38" fill="#000"/>
<rect x="1085.5" y="357.5" width="4" height="19" fill="#fff" stroke="#000" stroke-width="1"/>
<rect x="1095" y="349" width="1" height="18" fill="#000"/>
<rect x="1093.5" y="351.5" width="4" height="5" fill="#fff" stroke="#000" stroke-width="1"/>
<rect x="1103" y="364" width="1" height="15" fill="#000"/>
<rect x="1101" y="370" width="5" height="3" fill="#000"/>
<rect x="1111" y="367" width="1" height="37" fill="#000"/>
<rect x="1109" y="372" width="5" height="16" fill="#000"/>
<rect x="1119" y="369" width="1" height="27" fill="#000"/>
<rect x="1117" y="387" width="5" height="2" fill="#000"/>
<rect x="1127" y="368" width="1" height="27" fill="#000"/>
<rect x="1125.5" y="368.5" width="4" height="20" fill="#fff" stroke="#000" stroke-width="1"/>
<rect x="1135" y="366" width="1" height="21" fill="#000"/>
<rect x="1133" y="367" width="5" height="8" fill="#000"/>
<rect x="1143" y="360" width="1" height="18" fill="#000"/>
<rect x="1141" y="372" width="5" height="6" fill="#000"/>
<rect x="1151" y="370" width="1" height="15" fill="#000"/>
<rect x="1149.5" y="370.5" width="4" height="8" fill="#fff" stroke="#000" stroke-width="1"/>
<rect x="1159" y="344" width="1" height="26" fill="#000"/>
<rect x="1157" y="367" width="5" height="3" fill="#000"/>
<rect x="1167" y="361" width="1" height="19" fill="#000"/>
<rect x="1165" y="368" width="5" height="7" fill="#000"/>
<rect x="1175" y="371" width="1" height="14" fill="#000"/>
<rect x="1173" y="372" width="5" height="5" fill="#000"/>
<rect x="1183" y="353" width="1" height="33" fill="#000"/>
<rect x="1181.5" y="358.5" width="4" height="18" fill="#fff" stroke="#000" stroke-width="1"/>
<rect x="1191" y="348" width="1" height="19" fill="#000"/>
<rect x="1189.5" y="351.5" width="4" height="7" fill="#fff" stroke="#000" stroke-width="1"/>
<rect x="1199" y="340" width="1" height="13" fill="#000"/>
<rect x="1197.5" y="340.5" width="4" height="6" fill="#fff" stroke="#000" stroke-width="1"/>
<rect x="1207" y="323" width="1" height="33" fill="#000"/>
<rect x="1205.5" y="324.5" width="4" height="16" fill="#fff" stroke="#000" stroke-width="1"/>
<rect x="1215" y="320" width="1" height="17" fill="#000"/>
<rect x="1213.5" y="321.5" width="4" height="4" fill="#fff" stroke="#000" stroke-width="1"/>
<rect x="1223" y="311" width="1" height="14" fill="#000"/>
<rect x="1221.5" y="316.5" width="4" height="4" fill="#fff" stroke="#000" stroke-width="1"/>
<rect x="1231" y="302" width="1" height="19" fill="#000"/>
<rect x="1229.5" y="302.5" width="4" height="13" fill="#fff" stroke="#000" stroke-width="1"/>
<rect x="1239" y="289" width="1" height="15" fill="#000"/>
<rect x="1237.5" y="293.5" width="4" height="10" fill="#fff" stroke="#000" stroke-width="1"/>
<rect x="1247" y="279" width="1" height="18" fill="#000"/>
<rect x="1245" y="282" width="5" height="7" fill="#000"/>
<rect x="1255" y="281" width="1" height="49" fill="#000"/>
<rect x="1253" y="287" width="5" height="26" fill="#000"/>
<rect x="1263" y="298" width="1" height="20" fill="#000"/>
<rect x="1261.5" y="305.5" width="4" height="8" fill="#fff" stroke="#000" stroke-width="1"/>
<rect x="1271" y="302" width="1" height="37" fill="#000"/>
<rect x="1269" y="306" width="5" height="18" fill="#000"/>
<rect x="1279" y="301" width="1" height="46" fill="#000"/>
<rect x="1277" y="322" width="5" height="18" fill="#000"/>
<rect x="1287" y="336" width="1" height="23" fill="#000"/>
<rect x="1285" y="338" width="5" height="19" fill="#000"/>
<rect x="1295" y="360" width="1" height="9" fill="#000"/>
<rect x="1293" y="362" width="5" height="4" fill="#000"/>
<rect x="1303" y="367" width="1" height="16" fill="#000"/>
<rect x="1301" y="367" width="5" height="9" fill="#000"/>
<rect x="1311" y="362" width="1" height="29" fill="#000"/>
<rect x="1309.5" y="374.5" width="4" height="2" fill="#fff" stroke="#000" stroke-width="1"/>
<rect x="1319" y="345" width="1" height="36" fill="#000"/>
<rect x="1317.5" y="352.5" width="4" height="22" fill="#fff" stroke="#000" stroke-width="1"/>
<rect x="1327" y="350" width="1" height="72" fill="#000"/>
<rect x="1325" y="352" width="5" height="60" fill="#000"/>
<rect x="1335" y="409" width="1" height="27" fill="#000"/>
<rect x="1333" y="410" width="5" height="15" fill="#000"/>
<rect x="1343" y="397" width="1" height="22" fill="#000"/>
<rect x="1341.5" y="403.5" width="4" height="9" fill="#fff" stroke="#000" stroke-width="1"/>
<rect x="1351" y="389" width="1" height="38" fill="#000"/>
<rect x="1349.5" y="399.5" width="4" height="3" fill="#fff" stroke="#000" stroke-width="1"/>
<rect x="1359" y="393" width="1" height="48" fill="#000"/>
<rect x="1357" y="395" width="5" height="26" fill="#000"/>
<rect x="1367" y="395" width="1" height="38" fill="#000"/>
<rect x="1365.5" y="400.5" width="4" height="20" fill="#fff" stroke="#000" stroke-width="1"/>
<rect x="1375" y="395" width="1" height="32" fill="#000"/>
<rect x="1373" y="398" width="5" height="29" fill="#000"/>
<rect x="1383" y="402" width="1" height="37" fill="#000"/>
<rect x="1381.5" y="404.5" width="4" height="23" fill="#fff" stroke="#000" stroke-width="1"/>
</g>
<g fill="#000" shape-rendering="crispEdges"><rect x="82" y="253" width="1" height="1"/><rect x="81" y="254" width="1" height="1"/><rect x="83" y="254" width="1" height="1"/><rect x="82" y="255" width="1" height="1"/></g>
<rect x="1300" y="390" width="163" height="5" fill="#00ff00" shape-rendering="crispEdges"/>
<line x1="1250.5" y1="298" x2="1382" y2="420" stroke="#ff0000" stroke-width="2.8"/>
<polygon points="1383.5,415 1377,423 1390.5,428" fill="#ff0000"/>
<rect x="1176.5" y="269.5" width="61" height="18" fill="#fff" stroke="#ff0000" stroke-width="1" shape-rendering="crispEdges"/>
<text x="1207.0" y="284.8" font-size="16" fill="#ff0000" text-anchor="middle" textLength="56" lengthAdjust="spacingAndGlyphs">27871.5</text>
<polyline points="1238,278.5 1248,278.5" fill="none" stroke="#ff0000" stroke-width="1" shape-rendering="crispEdges"/>
<rect x="1200.5" y="383.5" width="61" height="18" fill="#fff" stroke="#ff0000" stroke-width="1" shape-rendering="crispEdges"/>
<text x="1231.0" y="398.8" font-size="16" fill="#ff0000" text-anchor="middle" textLength="56" lengthAdjust="spacingAndGlyphs">27128.0</text>
<rect x="1261.5" y="390.5" width="3" height="3" fill="#fff" stroke="#ff0000" stroke-width="1" shape-rendering="crispEdges"/>
<rect x="1288.5" y="431.5" width="61" height="18" fill="#fff" stroke="#ff0000" stroke-width="1" shape-rendering="crispEdges"/>
<text x="1319.0" y="446.8" font-size="16" fill="#ff0000" text-anchor="middle" textLength="56" lengthAdjust="spacingAndGlyphs">26815.0</text>
<polyline points="1352,440.5 1359.5,440.5" fill="none" stroke="#ff0000" stroke-width="1" shape-rendering="crispEdges"/>
<rect x="1349.5" y="438.5" width="3" height="3" fill="#fff" stroke="#ff0000" stroke-width="1" shape-rendering="crispEdges"/>
<rect x="712.5" y="555.5" width="61" height="18" fill="#fff" stroke="#ff0000" stroke-width="1" shape-rendering="crispEdges"/>
<text x="743.0" y="570.8" font-size="16" fill="#ff0000" text-anchor="middle" textLength="56" lengthAdjust="spacingAndGlyphs">26006.3</text>
<polyline points="774,564.5 783.5,564.5" fill="none" stroke="#ff0000" stroke-width="1" shape-rendering="crispEdges"/>
</g>
<g clip-path="url(#cmacd)" shape-rendering="crispEdges">
<rect x="7" y="599" width="1" height="45" fill="#c0c0c0"/>
<rect x="15" y="599" width="1" height="45" fill="#c0c0c0"/>
<rect x="23" y="599" width="1" height="45" fill="#c0c0c0"/>
<rect x="31" y="599" width="1" height="45" fill="#c0c0c0"/>
<rect x="39" y="606" width="1" height="38" fill="#c0c0c0"/>
<rect x="47" y="614" width="1" height="30" fill="#c0c0c0"/>
<rect x="55" y="635" width="1" height="9" fill="#c0c0c0"/>
<rect x="63" y="643" width="1" height="3" fill="#c0c0c0"/>
<rect x="71" y="643" width="1" height="14" fill="#c0c0c0"/>
<rect x="79" y="643" width="1" height="20" fill="#c0c0c0"/>
<rect x="87" y="643" width="1" height="25" fill="#c0c0c0"/>
<rect x="95" y="643" width="1" height="30" fill="#c0c0c0"/>
<rect x="103" y="643" width="1" height="41" fill="#c0c0c0"/>
<rect x="111" y="643" width="1" height="48" fill="#c0c0c0"/>
<rect x="119" y="643" width="1" height="55" fill="#c0c0c0"/>
<rect x="127" y="643" width="1" height="60" fill="#c0c0c0"/>
<rect x="135" y="643" width="1" height="63" fill="#c0c0c0"/>
<rect x="143" y="643" width="1" height="66" fill="#c0c0c0"/>
<rect x="151" y="643" width="1" height="66" fill="#c0c0c0"/>
<rect x="159" y="643" width="1" height="64" fill="#c0c0c0"/>
<rect x="167" y="643" width="1" height="72" fill="#c0c0c0"/>
<rect x="175" y="643" width="1" height="77" fill="#c0c0c0"/>
<rect x="183" y="643" width="1" height="79" fill="#c0c0c0"/>
<rect x="191" y="643" width="1" height="74" fill="#c0c0c0"/>
<rect x="199" y="643" width="1" height="73" fill="#c0c0c0"/>
<rect x="207" y="643" width="1" height="69" fill="#c0c0c0"/>
<rect x="215" y="643" width="1" height="70" fill="#c0c0c0"/>
<rect x="223" y="643" width="1" height="61" fill="#c0c0c0"/>
<rect x="231" y="643" width="1" height="54" fill="#c0c0c0"/>
<rect x="239" y="643" width="1" height="47" fill="#c0c0c0"/>
<rect x="247" y="643" width="1" height="32" fill="#c0c0c0"/>
<rect x="255" y="643" width="1" height="22" fill="#c0c0c0"/>
<rect x="263" y="643" width="1" height="11" fill="#c0c0c0"/>
<rect x="271" y="643" width="1" height="6" fill="#c0c0c0"/>
<rect x="279" y="643" width="1" height="2" fill="#c0c0c0"/>
<rect x="287" y="643" width="1" height="2" fill="#c0c0c0"/>
<rect x="295" y="643" width="1" height="2" fill="#c0c0c0"/>
<rect x="303" y="642" width="1" height="2" fill="#c0c0c0"/>
<rect x="311" y="643" width="1" height="2" fill="#c0c0c0"/>
<rect x="319" y="643" width="1" height="11" fill="#c0c0c0"/>
<rect x="327" y="643" width="1" height="16" fill="#c0c0c0"/>
<rect x="335" y="643" width="1" height="31" fill="#c0c0c0"/>
<rect x="343" y="643" width="1" height="33" fill="#c0c0c0"/>
<rect x="351" y="643" width="1" height="36" fill="#c0c0c0"/>
<rect x="359" y="643" width="1" height="38" fill="#c0c0c0"/>
<rect x="367" y="643" width="1" height="38" fill="#c0c0c0"/>
<rect x="375" y="643" width="1" height="35" fill="#c0c0c0"/>
<rect x="383" y="643" width="1" height="31" fill="#c0c0c0"/>
<rect x="391" y="643" width="1" height="29" fill="#c0c0c0"/>
<rect x="399" y="643" width="1" height="27" fill="#c0c0c0"/>
<rect x="407" y="643" width="1" height="24" fill="#c0c0c0"/>
<rect x="415" y="643" width="1" height="21" fill="#c0c0c0"/>
<rect x="423" y="643" width="1" height="18" fill="#c0c0c0"/>
<rect x="431" y="643" width="1" height="14" fill="#c0c0c0"/>
<rect x="439" y="643" width="1" height="10" fill="#c0c0c0"/>
<rect x="447" y="643" width="1" height="19" fill="#c0c0c0"/>
<rect x="455" y="643" width="1" height="27" fill="#c0c0c0"/>
<rect x="463" y="643" width="1" height="34" fill="#c0c0c0"/>
<rect x="471" y="643" width="1" height="39" fill="#c0c0c0"/>
<rect x="479" y="643" width="1" height="49" fill="#c0c0c0"/>
<rect x="487" y="643" width="1" height="62" fill="#c0c0c0"/>
<rect x="495" y="643" width="1" height="67" fill="#c0c0c0"/>
<rect x="503" y="643" width="1" height="67" fill="#c0c0c0"/>
<rect x="511" y="643" width="1" height="70" fill="#c0c0c0"/>
<rect x="519" y="643" width="1" height="74" fill="#c0c0c0"/>
<rect x="527" y="643" width="1" height="85" fill="#c0c0c0"/>
<rect x="535" y="643" width="1" height="81" fill="#c0c0c0"/>
<rect x="543" y="643" width="1" height="78" fill="#c0c0c0"/>
<rect x="551" y="643" width="1" height="71" fill="#c0c0c0"/>
<rect x="559" y="643" width="1" height="64" fill="#c0c0c0"/>
<rect x="567" y="643" width="1" height="67" fill="#c0c0c0"/>
<rect x="575" y="643" width="1" height="77" fill="#c0c0c0"/>
<rect x="583" y="643" width="1" height="83" fill="#c0c0c0"/>
<rect x="591" y="643" width="1" height="77" fill="#c0c0c0"/>
<rect x="599" y="643" width="1" height="75" fill="#c0c0c0"/>
<rect x="607" y="643" width="1" height="74" fill="#c0c0c0"/>
<rect x="615" y="643" width="1" height="79" fill="#c0c0c0"/>
<rect x="623" y="643" width="1" height="83" fill="#c0c0c0"/>
<rect x="631" y="643" width="1" height="79" fill="#c0c0c0"/>
<rect x="639" y="643" width="1" height="81" fill="#c0c0c0"/>
<rect x="647" y="643" width="1" height="85" fill="#c0c0c0"/>
<rect x="655" y="643" width="1" height="92" fill="#c0c0c0"/>
<rect x="663" y="643" width="1" height="90" fill="#c0c0c0"/>
<rect x="671" y="643" width="1" height="79" fill="#c0c0c0"/>
<rect x="679" y="643" width="1" height="82" fill="#c0c0c0"/>
<rect x="687" y="643" width="1" height="82" fill="#c0c0c0"/>
<rect x="695" y="643" width="1" height="87" fill="#c0c0c0"/>
<rect x="703" y="643" width="1" height="80" fill="#c0c0c0"/>
<rect x="711" y="643" width="1" height="75" fill="#c0c0c0"/>
<rect x="719" y="643" width="1" height="72" fill="#c0c0c0"/>
<rect x="727" y="643" width="1" height="70" fill="#c0c0c0"/>
<rect x="735" y="643" width="1" height="60" fill="#c0c0c0"/>
<rect x="743" y="643" width="1" height="52" fill="#c0c0c0"/>
<rect x="751" y="643" width="1" height="47" fill="#c0c0c0"/>
<rect x="759" y="643" width="1" height="53" fill="#c0c0c0"/>
<rect x="767" y="643" width="1" height="50" fill="#c0c0c0"/>
<rect x="775" y="643" width="1" height="74" fill="#c0c0c0"/>
<rect x="783" y="643" width="1" height="83" fill="#c0c0c0"/>
<rect x="791" y="643" width="1" height="82" fill="#c0c0c0"/>
<rect x="799" y="643" width="1" height="89" fill="#c0c0c0"/>
<rect x="807" y="643" width="1" height="91" fill="#c0c0c0"/>
<rect x="815" y="643" width="1" height="93" fill="#c0c0c0"/>
<rect x="823" y="643" width="1" height="89" fill="#c0c0c0"/>
<rect x="831" y="643" width="1" height="93" fill="#c0c0c0"/>
<rect x="839" y="643" width="1" height="98" fill="#c0c0c0"/>
<rect x="847" y="643" width="1" height="93" fill="#c0c0c0"/>
<rect x="855" y="643" width="1" height="91" fill="#c0c0c0"/>
<rect x="863" y="643" width="1" height="83" fill="#c0c0c0"/>
<rect x="871" y="643" width="1" height="62" fill="#c0c0c0"/>
<rect x="879" y="643" width="1" height="50" fill="#c0c0c0"/>
<rect x="887" y="643" width="1" height="39" fill="#c0c0c0"/>
<rect x="895" y="643" width="1" height="26" fill="#c0c0c0"/>
<rect x="903" y="643" width="1" height="12" fill="#c0c0c0"/>
<rect x="911" y="642" width="1" height="2" fill="#c0c0c0"/>
<rect x="919" y="638" width="1" height="6" fill="#c0c0c0"/>
<rect x="927" y="634" width="1" height="10" fill="#c0c0c0"/>
<rect x="935" y="632" width="1" height="12" fill="#c0c0c0"/>
<rect x="943" y="631" width="1" height="13" fill="#c0c0c0"/>
<rect x="951" y="628" width="1" height="16" fill="#c0c0c0"/>
<rect x="959" y="621" width="1" height="23" fill="#c0c0c0"/>
<rect x="967" y="610" width="1" height="34" fill="#c0c0c0"/>
<rect x="975" y="601" width="1" height="43" fill="#c0c0c0"/>
<rect x="983" y="597" width="1" height="47" fill="#c0c0c0"/>
<rect x="991" y="595" width="1" height="49" fill="#c0c0c0"/>
<rect x="999" y="592" width="1" height="52" fill="#c0c0c0"/>
<rect x="1007" y="598" width="1" height="46" fill="#c0c0c0"/>
<rect x="1015" y="603" width="1" height="41" fill="#c0c0c0"/>
<rect x="1023" y="609" width="1" height="35" fill="#c0c0c0"/>
<rect x="1031" y="616" width="1" height="28" fill="#c0c0c0"/>
<rect x="1039" y="622" width="1" height="22" fill="#c0c0c0"/>
<rect x="1047" y="630" width="1" height="14" fill="#c0c0c0"/>
<rect x="1055" y="633" width="1" height="11" fill="#c0c0c0"/>
<rect x="1063" y="631" width="1" height="13" fill="#c0c0c0"/>
<rect x="1071" y="631" width="1" height="13" fill="#c0c0c0"/>
<rect x="1079" y="630" width="1" height="14" fill="#c0c0c0"/>
<rect x="1087" y="626" width="1" height="18" fill="#c0c0c0"/>
<rect x="1095" y="622" width="1" height="22" fill="#c0c0c0"/>
<rect x="1103" y="623" width="1" height="21" fill="#c0c0c0"/>
<rect x="1111" y="627" width="1" height="17" fill="#c0c0c0"/>
<rect x="1119" y="630" width="1" height="14" fill="#c0c0c0"/>
<rect x="1127" y="629" width="1" height="15" fill="#c0c0c0"/>
<rect x="1135" y="630" width="1" height="14" fill="#c0c0c0"/>
<rect x="1143" y="631" width="1" height="13" fill="#c0c0c0"/>
<rect x="1151" y="631" width="1" height="13" fill="#c0c0c0"/>
<rect x="1159" y="630" width="1" height="14" fill="#c0c0c0"/>
<rect x="1167" y="631" width="1" height="13" fill="#c0c0c0"/>
<rect x="1175" y="633" width="1" height="11" fill="#c0c0c0"/>
<rect x="1183" y="630" width="1" height="14" fill="#c0c0c0"/>
<rect x="1191" y="627" width="1" height="17" fill="#c0c0c0"/>
<rect x="1199" y="623" width="1" height="21" fill="#c0c0c0"/>
<rect x="1207" y="616" width="1" height="28" fill="#c0c0c0"/>
<rect x="1215" y="611" width="1" height="33" fill="#c0c0c0"/>
<rect x="1223" y="606" width="1" height="38" fill="#c0c0c0"/>
<rect x="1231" y="600" width="1" height="44" fill="#c0c0c0"/>
<rect x="1239" y="594" width="1" height="50" fill="#c0c0c0"/>
<rect x="1247" y="588" width="1" height="56" fill="#c0c0c0"/>
<rect x="1255" y="590" width="1" height="54" fill="#c0c0c0"/>
<rect x="1263" y="590" width="1" height="54" fill="#c0c0c0"/>
<rect x="1271" y="594" width="1" height="50" fill="#c0c0c0"/>
<rect x="1279" y="602" width="1" height="42" fill="#c0c0c0"/>
<rect x="1287" y="611" width="1" height="33" fill="#c0c0c0"/>
<rect x="1295" y="622" width="1" height="22" fill="#c0c0c0"/>
<rect x="1303" y="630" width="1" height="14" fill="#c0c0c0"/>
<rect x="1311" y="638" width="1" height="6" fill="#c0c0c0"/>
<rect x="1319" y="641" width="1" height="3" fill="#c0c0c0"/>
<rect x="1327" y="643" width="1" height="10" fill="#c0c0c0"/>
<rect x="1335" y="643" width="1" height="23" fill="#c0c0c0"/>
<rect x="1343" y="643" width="1" height="29" fill="#c0c0c0"/>
<rect x="1351" y="643" width="1" height="32" fill="#c0c0c0"/>
<rect x="1359" y="643" width="1" height="39" fill="#c0c0c0"/>
<rect x="1367" y="643" width="1" height="39" fill="#c0c0c0"/>
<rect x="1375" y="643" width="1" height="44" fill="#c0c0c0"/>
<rect x="1383" y="643" width="1" height="43" fill="#c0c0c0"/>
</g>
<g clip-path="url(#cmacd)">
<polyline points="0.0,615.5 2.7,614.2 16.3,607.0 27.1,603.3 39.8,601.2 48.9,602.4 63.3,610.6 77.8,621.4 95.9,639.5 103.2,648.6 114.0,663.0 126.7,674.8 137.6,683.0 150.2,692.0 168.3,702.0 186.4,710.5 200.0,712.3 215.9,714.1 232.2,712.0 246.7,704.7 261.2,692.0 275.6,679.4 290.1,665.8 304.6,654.0 319.1,647.1 329.9,646.4 340.8,648.6 355.3,654.9 369.8,662.2 384.2,669.4 396.0,673.9 408.3,675.2 419.1,673.4 437.2,666.7 455.3,663.4 468.0,664.9 480.7,668.0 493.4,675.7 504.2,684.8 516.9,693.8 529.6,704.2 544.0,712.8 554.9,715.2 573.0,715.9 582.0,717.7 595.2,717.4 615.1,716.5 618.8,717.4 642.3,721.3 660.4,723.7 683.9,726.0 714.7,725.5 732.8,720.1 745.5,714.6 761.8,706.5 769.0,704.3 783.5,704.3 792.1,706.1 805.7,710.1 820.2,718.3 834.7,727.3 852.8,733.1 863.6,733.1 881.7,724.2 899.8,708.0 917.9,684.8 936.0,660.4 950.5,645.9 965.0,632.3 984.0,620.5 990.9,616.4 1001.7,609.7 1016.2,603.7 1032.5,601.2 1043.3,604.8 1056.0,610.2 1070.5,618.2 1085.0,624.2 1097.6,626.3 1117.6,627.2 1137.5,626.3 1161.0,627.2 1177.3,629.6 1183.2,630.5 1194.1,628.7 1212.2,626.5 1226.7,620.5 1241.2,613.3 1252.0,605.2 1266.5,599.4 1281.0,596.1 1291.9,597.0 1302.7,600.6 1317.2,610.6 1331.7,624.2 1346.2,640.5 1357.0,650.4 1367.9,660.4 1380.6,667.6" fill="none" stroke="#ff0000" stroke-width="1" stroke-dasharray="3,3" shape-rendering="crispEdges"/>
<line x1="1260.5" y1="601" x2="1376" y2="676.5" stroke="#ff0000" stroke-width="3"/>
<polygon points="1375.5,670.5 1369.5,679 1384,681" fill="#ff0000"/>
</g>
<g clip-path="url(#crsi)">
<g shape-rendering="crispEdges" stroke="#c0c0c0" stroke-width="1" stroke-dasharray="3,3" stroke-dashoffset="2">
<line x1="0" y1="786.5" x2="1650" y2="786.5"/>
<line x1="0" y1="837.5" x2="1650" y2="837.5"/>
<line x1="0" y1="898.5" x2="1650" y2="898.5"/>
</g>
<polyline points="-0.5,814.5 7.5,811.2 15.5,815.0 23.5,814.3 31.5,814.3 39.5,838.0 47.5,843.0 55.5,870.5 63.5,858.4 71.5,860.7 79.5,854.7 87.5,855.3 95.5,857.1 103.5,870.5 111.5,867.7 119.5,869.0 127.5,871.4 135.5,867.7 143.5,869.2 151.5,865.3 159.5,859.0 167.5,875.7 175.5,874.6 183.5,872.3 191.5,854.7 199.5,859.4 207.5,856.6 215.5,861.7 223.5,842.6 231.5,842.3 239.5,840.2 247.5,823.6 255.5,828.2 263.5,823.6 271.5,832.3 279.5,831.5 287.5,833.3 295.5,842.3 303.5,836.8 311.5,833.3 319.5,845.1 327.5,853.4 335.5,854.8 343.5,867.2 351.5,849.5 359.5,852.4 367.5,851.3 375.5,847.8 383.5,843.4 391.5,842.3 399.5,839.5 407.5,839.3 415.5,838.4 423.5,838.1 431.5,834.0 439.5,832.3 447.5,860.0 455.5,862.7 463.5,864.0 471.5,864.0 479.5,874.1 487.5,881.3 495.5,867.9 503.5,858.6 511.5,863.1 519.5,866.5 527.5,878.3 535.5,852.3 543.5,852.3 551.5,846.2 559.5,844.4 567.5,856.8 575.5,867.2 583.5,865.1 591.5,846.5 599.5,852.0 607.5,853.4 615.5,859.6 623.5,861.4 631.5,850.6 639.5,857.5 647.5,862.0 655.5,865.1 663.5,854.1 671.5,842.6 679.5,855.5 687.5,853.4 695.5,859.6 703.5,845.3 711.5,846.5 719.5,849.2 727.5,850.3 735.5,839.5 743.5,839.5 751.5,843.0 759.5,854.8 767.5,843.7 775.5,867.2 783.5,858.2 791.5,848.5 799.5,855.5 807.5,852.3 815.5,853.4 823.5,848.5 831.5,854.8 839.5,857.5 847.5,848.5 855.5,850.6 863.5,844.0 871.5,830.5 879.5,836.8 887.5,835.4 895.5,829.1 903.5,826.4 911.5,825.0 919.5,833.3 927.5,833.3 935.5,833.3 943.5,833.0 951.5,831.2 959.5,825.0 967.5,817.4 975.5,816.3 983.5,821.3 991.5,822.2 999.5,820.4 1007.5,834.3 1015.5,833.3 1023.5,836.8 1031.5,840.2 1039.5,840.2 1047.5,847.4 1055.5,839.5 1063.5,831.2 1071.5,832.3 1079.5,832.0 1087.5,824.6 1095.5,823.6 1103.5,831.2 1111.5,839.3 1119.5,840.2 1127.5,831.2 1135.5,833.3 1143.5,835.4 1151.5,832.3 1159.5,831.5 1167.5,834.3 1175.5,836.1 1183.5,826.4 1191.5,824.0 1199.5,819.5 1207.5,811.6 1215.5,810.2 1223.5,806.3 1231.5,802.8 1239.5,799.1 1247.5,797.3 1255.5,818.1 1263.5,815.7 1271.5,827.1 1279.5,837.1 1287.5,845.1 1295.5,848.6 1303.5,853.3 1311.5,849.9 1319.5,840.5 1327.5,861.4 1335.5,867.3 1343.5,855.4 1351.5,853.3 1359.5,861.4 1367.5,850.3 1375.5,858.8 1383.5,849.4" fill="none" stroke="#1e90ff" stroke-width="1" shape-rendering="crispEdges"/>
<line x1="1294.5" y1="851.5" x2="1374" y2="853.8" stroke="#ff0000" stroke-width="3"/>
<polygon points="1371,848.5 1383,854.5 1370,859.5" fill="#ff0000"/>
</g>
<g shape-rendering="crispEdges" fill="#000">
<rect x="1651" y="45" width="3" height="1"/>
<rect x="1651" y="78" width="3" height="1"/>
<rect x="1651" y="111" width="3" height="1"/>
<rect x="1651" y="144" width="3" height="1"/>
<rect x="1651" y="177" width="3" height="1"/>
<rect x="1651" y="211" width="3" height="1"/>
<rect x="1651" y="244" width="3" height="1"/>
<rect x="1651" y="277" width="3" height="1"/>
<rect x="1651" y="310" width="3" height="1"/>
<rect x="1651" y="343" width="3" height="1"/>
<rect x="1651" y="376" width="3" height="1"/>
<rect x="1651" y="409" width="3" height="1"/>
<rect x="1651" y="442" width="3" height="1"/>
<rect x="1651" y="475" width="3" height="1"/>
<rect x="1651" y="508" width="3" height="1"/>
<rect x="1651" y="541" width="3" height="1"/>
<rect x="1651" y="574" width="3" height="1"/>
<rect x="1651" y="643" width="3" height="1"/>
<rect x="1651" y="579" width="3" height="1"/>
<rect x="1651" y="747" width="3" height="1"/>
<rect x="1651" y="751" width="3" height="1"/>
<rect x="1651" y="923" width="3" height="1"/>
<rect x="1651" y="786" width="3" height="1"/>
<rect x="1651" y="837" width="3" height="1"/>
<rect x="1651" y="898" width="3" height="1"/>
<rect x="55" y="925" width="1" height="3"/>
<rect x="119" y="925" width="1" height="3"/>
<rect x="183" y="925" width="1" height="3"/>
<rect x="247" y="925" width="1" height="3"/>
<rect x="311" y="925" width="1" height="3"/>
<rect x="375" y="925" width="1" height="3"/>
<rect x="439" y="925" width="1" height="3"/>
<rect x="503" y="925" width="1" height="3"/>
<rect x="567" y="925" width="1" height="3"/>
<rect x="631" y="925" width="1" height="3"/>
<rect x="695" y="925" width="1" height="3"/>
<rect x="759" y="925" width="1" height="3"/>
<rect x="823" y="925" width="1" height="3"/>
<rect x="887" y="925" width="1" height="3"/>
<rect x="951" y="925" width="1" height="3"/>
<rect x="1015" y="925" width="1" height="3"/>
<rect x="1079" y="925" width="1" height="3"/>
<rect x="1143" y="925" width="1" height="3"/>
<rect x="1207" y="925" width="1" height="3"/>
<rect x="1271" y="925" width="1" height="3"/>
<rect x="1335" y="925" width="1" height="3"/>
</g>
<g font-family="Liberation Sans, sans-serif" font-size="10.5" fill="#000">
<text transform="scale(0.890,1)" x="1860.67" y="49.1">29392.5</text>
<text transform="scale(0.890,1)" x="1860.67" y="82.1">29178.0</text>
<text transform="scale(0.890,1)" x="1860.67" y="115.1">28963.5</text>
<text transform="scale(0.890,1)" x="1860.67" y="148.2">28749.0</text>
<text transform="scale(0.890,1)" x="1860.67" y="181.2">28534.5</text>
<text transform="scale(0.890,1)" x="1860.67" y="214.2">28313.5</text>
<text transform="scale(0.890,1)" x="1860.67" y="247.2">28099.0</text>
<text transform="scale(0.890,1)" x="1860.67" y="280.2">27884.5</text>
<text transform="scale(0.890,1)" x="1860.67" y="313.3">27670.0</text>
<text transform="scale(0.890,1)" x="1860.67" y="346.3">27455.5</text>
<text transform="scale(0.890,1)" x="1860.67" y="379.3">27241.0</text>
<text transform="scale(0.890,1)" x="1860.67" y="412.3">27026.5</text>
<text transform="scale(0.890,1)" x="1860.67" y="445.3">26805.5</text>
<text transform="scale(0.890,1)" x="1860.67" y="478.4">26591.0</text>
<text transform="scale(0.890,1)" x="1860.67" y="511.4">26376.5</text>
<text transform="scale(0.890,1)" x="1860.67" y="544.4">26162.0</text>
<text transform="scale(0.890,1)" x="1860.67" y="577.4">25947.5</text>
<text transform="scale(0.890,1)" x="1858.43" y="589.5">164.44</text>
<text transform="scale(0.890,1)" x="1858.43" y="647.5">0.00</text>
<text transform="scale(0.890,1)" x="1858.43" y="745.5">-270.67</text>
<text transform="scale(0.890,1)" x="1858.43" y="761.0">100</text>
<text transform="scale(0.890,1)" x="1857.30" y="791.0">80</text>
<text transform="scale(0.890,1)" x="1857.30" y="841.0">50</text>
<text transform="scale(0.890,1)" x="1857.30" y="901.5">15</text>
<text transform="scale(0.890,1)" x="1857.30" y="921.5">0</text>
<text transform="scale(0.890,1)" x="-12.36" y="937.0">5 Jan 2022</text>
<text transform="scale(0.890,1)" x="60.67" y="937.0">6 Jan 00:00</text>
<text transform="scale(0.890,1)" x="132.58" y="937.0">7 Jan 10:55</text>
<text transform="scale(0.890,1)" x="204.49" y="937.0">10 Jan 18:55</text>
<text transform="scale(0.890,1)" x="276.40" y="937.0">12 Jan 00:00</text>
<text transform="scale(0.890,1)" x="348.31" y="937.0">13 Jan 10:55</text>
<text transform="scale(0.890,1)" x="420.22" y="937.0">14 Jan 18:55</text>
<text transform="scale(0.890,1)" x="492.13" y="937.0">18 Jan 00:00</text>
<text transform="scale(0.890,1)" x="564.04" y="937.0">19 Jan 10:55</text>
<text transform="scale(0.890,1)" x="635.96" y="937.0">20 Jan 18:55</text>
<text transform="scale(0.890,1)" x="707.87" y="937.0">24 Jan 00:00</text>
<text transform="scale(0.890,1)" x="779.78" y="937.0">25 Jan 10:55</text>
<text transform="scale(0.890,1)" x="851.69" y="937.0">26 Jan 18:55</text>
<text transform="scale(0.890,1)" x="923.60" y="937.0">28 Jan 00:00</text>
<text transform="scale(0.890,1)" x="995.51" y="937.0">31 Jan 10:55</text>
<text transform="scale(0.890,1)" x="1067.42" y="937.0">1 Feb 18:55</text>
<text transform="scale(0.890,1)" x="1139.33" y="937.0">3 Feb 00:00</text>
<text transform="scale(0.890,1)" x="1211.24" y="937.0">4 Feb 10:55</text>
<text transform="scale(0.890,1)" x="1283.15" y="937.0">7 Feb 18:55</text>
<text transform="scale(0.890,1)" x="1355.06" y="937.0">9 Feb 00:00</text>
<text transform="scale(0.890,1)" x="1426.97" y="937.0">10 Feb 10:55</text>
<text transform="scale(0.890,1)" x="1498.88" y="937.0">11 Feb 18:55</text>
<text transform="scale(0.890,1)" x="-1.12" y="35.0">&#183;</text>
<text transform="scale(0.890,1)" x="6.18" y="35.0">JPN225-,H4&#160;&#160;26905.0 27067.5 26832.5 27055.0</text>
<text transform="scale(0.890,1)" x="-5.62" y="591.0">MACD(12,26,9) -109.71 -71.05</text>
<text transform="scale(0.890,1)" x="-6.40" y="763.0">RSI(14) 43.8028</text>
</g>
<rect x="1652" y="326" width="41" height="11" fill="#ff0000" shape-rendering="crispEdges"/>
<text transform="scale(0.946,1)" x="1750.53" y="335.2" font-family="Liberation Sans, sans-serif" font-size="9.6" fill="#fff">27519.3</text>
<rect x="1652" y="358" width="41" height="11" fill="#ff0000" shape-rendering="crispEdges"/>
<text transform="scale(0.946,1)" x="1750.53" y="367.2" font-family="Liberation Sans, sans-serif" font-size="9.6" fill="#fff">27310.6</text>
<rect x="1652" y="386" width="41" height="11" fill="#32cd32" shape-rendering="crispEdges"/>
<text transform="scale(0.946,1)" x="1750.53" y="395.2" font-family="Liberation Sans, sans-serif" font-size="9.6" fill="#fff">27128.0</text>
<rect x="1652" y="398" width="41" height="11" fill="#000000" shape-rendering="crispEdges"/>
<text transform="scale(0.946,1)" x="1750.53" y="407.2" font-family="Liberation Sans, sans-serif" font-size="9.6" fill="#fff">27055.0</text>
<rect x="1652" y="423" width="41" height="11" fill="#0000ff" shape-rendering="crispEdges"/>
<text transform="scale(0.946,1)" x="1750.53" y="432.2" font-family="Liberation Sans, sans-serif" font-size="9.6" fill="#fff">26886.7</text>
<rect x="1652" y="453" width="41" height="11" fill="#0000ff" shape-rendering="crispEdges"/>
<text transform="scale(0.946,1)" x="1750.53" y="462.2" font-family="Liberation Sans, sans-serif" font-size="9.6" fill="#fff">26691.0</text>
</svg>
<div class="tp" style="left:0;top:41px;width:215px;height:61px;background:#fff;"></div>
<div class="tp" style="left:0;top:43px;width:45px;height:24px;background:linear-gradient(#ff5454,#e23434);border-top:1px solid #c81010;border-right:1px solid #b80808;"></div>
<div class="tp" style="left:0;top:66px;width:42px;height:1px;background:#8c0000;"></div>
<div class="tp" style="left:6px;top:48px;font-size:12.5px;color:#fff;transform:scaleX(0.86);transform-origin:0 0;letter-spacing:0.2px;">SELL</div>
<div class="tp" style="left:161px;top:43px;width:51px;height:24px;background:linear-gradient(#ff5454,#e23434);border-top:1px solid #c81010;border-right:1px solid #b80808;border-left:1px solid #c81010;"></div>
<div class="tp" style="left:165px;top:66px;width:44px;height:1px;background:#8c0000;"></div>
<div class="tp" style="left:174px;top:48px;font-size:12.5px;color:#fff;transform:scaleX(0.86);transform-origin:0 0;letter-spacing:0.2px;">BUY</div>
<div class="tp" style="left:46px;top:42px;width:115px;height:25px;background:#fff;"></div>
<div class="tp" style="left:48px;top:43px;width:110px;height:20px;border:1px solid #a4a8b0;background:#fff;"></div>
<div class="tp" style="left:49px;top:44px;width:20px;height:20px;background:linear-gradient(#f2f2f2 0,#e8e8e8 45%,#d6d6d6 50%,#d2d2d2 100%);border-right:1px solid #a4a8b0;"></div>
<div class="tp" style="left:138px;top:44px;width:20px;height:20px;background:linear-gradient(#f2f2f2 0,#e8e8e8 45%,#d6d6d6 50%,#d2d2d2 100%);border-left:1px solid #a4a8b0;"></div>
<div class="tp" style="left:56px;top:52px;width:0;height:0;border-left:3px solid transparent;border-right:3px solid transparent;border-top:3px solid #4a64c4;"></div>
<div class="tp" style="left:145px;top:51px;width:0;height:0;border-left:3px solid transparent;border-right:3px solid transparent;border-bottom:3px solid #4a64c4;"></div>
<div class="tp" style="left:110px;top:47.2px;font-size:12.5px;color:#000;">1.00</div>
<div class="tp" style="left:0;top:67px;width:102px;height:31px;background:linear-gradient(#e43030,#b00606);border-top:1px solid #b00000;border-right:1px solid #a00000;border-bottom:1px solid #a00000;"></div>
<div class="tp" style="left:105px;top:67px;width:107px;height:31px;background:linear-gradient(#e43030,#b00606);border:1px solid #a00000;"></div>
<div class="tp" style="left:10px;top:84.3px;font-size:12px;font-weight:bold;color:#fff;transform:scaleX(1.05);transform-origin:0 0;">27053</div>
<div class="tp" style="left:49.5px;top:90.7px;width:4px;height:4px;background:#fff;border-radius:1px;"></div>
<div class="tp" style="left:56.5px;top:62.5px;font-size:35px;color:#fff;transform:scaleX(0.8);transform-origin:0 0;">5</div>
<div class="tp" style="left:120px;top:84.3px;font-size:12px;font-weight:bold;color:#fff;transform:scaleX(1.05);transform-origin:0 0;">27076</div>
<div class="tp" style="left:160.5px;top:90.7px;width:4px;height:4px;background:#fff;border-radius:1px;"></div>
<div class="tp" style="left:167.5px;top:62.5px;font-size:35px;color:#fff;transform:scaleX(0.8);transform-origin:0 0;">5</div>

<div class="tp" style="left:0;top:67px;width:42px;height:1px;background:#f07070;"></div>
<div class="tp" style="left:165px;top:67px;width:44px;height:1px;background:#f07070;"></div>
<div id="edge"></div>
</body></html>
